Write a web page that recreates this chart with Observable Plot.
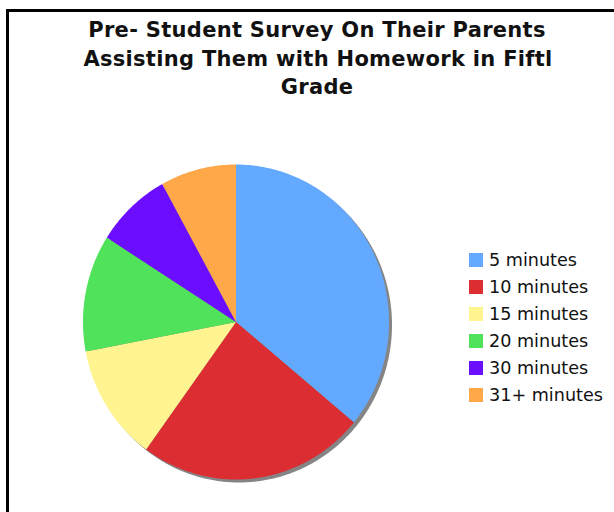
<!DOCTYPE html>
<html>
<head>
<meta charset="utf-8">
<script src="https://cdn.jsdelivr.net/npm/d3@7"></script>
<script src="https://cdn.jsdelivr.net/npm/@observablehq/plot@0.6"></script>
<style>
  html, body { margin: 0; padding: 0; background: #fff; }
  #root { position: relative; width: 614px; height: 512px; overflow: hidden; font-family: "DejaVu Sans", sans-serif; }
  #frame { position: absolute; left: 6px; top: 9px; width: 700px; height: 600px; border-left: 3px solid #000; border-top: 3px solid #000; }
  #title { position: absolute; left: 0; top: 16px; width: 634px; text-align: center; font-weight: bold; font-size: 21px; line-height: 28.5px; letter-spacing: 0.3px; color: #111; white-space: nowrap; }
  #title .l2 { display: inline-block; position: relative; left: 1px; }
  #chart { position: absolute; left: 0; top: 0; }
  #legend { position: absolute; left: 469px; top: 246px; font-size: 17.6px; color: #111; }
  #legend .row { display: flex; align-items: center; height: 27.1px; white-space: nowrap; }
  #legend .sw { width: 14px; height: 14px; margin-right: 6px; }
</style>
</head>
<body>
<div id="root">
  <div id="frame"></div>
  <div id="chart"></div>
  <div id="title"></div>
  <div id="legend"></div>
</div>
<script>
const titleLines = ["Pre- Student Survey On Their Parents", "Assisting Them with Homework in Fiftl", "Grade"];
const categories = ["5 minutes", "10 minutes", "15 minutes", "20 minutes", "30 minutes", "31+ minutes"];
const values = [9, 6, 3, 3, 2, 2];
const colors = ["#63a9ff", "#dc2d33", "#fff48f", "#4fe25a", "#6b0dff", "#ffa84a"];

// title
const t = document.getElementById("title");
titleLines.forEach((line, i) => {
  const d = document.createElement("div");
  const s = document.createElement("span");
  s.textContent = line;
  if (i === 1) s.className = "l2";
  d.appendChild(s);
  t.appendChild(d);
});

// pie geometry from data
const arcs = d3.pie().sort(null).value(d => d.value).startAngle(0).endAngle(2 * Math.PI)(
  categories.map((name, i) => ({name, value: values[i]}))
);
const wedgePts = [];
arcs.forEach(a => {
  wedgePts.push({name: a.data.name, x: 0, y: 0});
  const n = Math.max(2, Math.ceil((a.endAngle - a.startAngle) / (Math.PI / 360)));
  for (let k = 0; k <= n; k++) {
    const ang = a.startAngle + (a.endAngle - a.startAngle) * k / n;
    wedgePts.push({name: a.data.name, x: Math.sin(ang), y: Math.cos(ang)});
  }
  wedgePts.push({name: a.data.name, x: 0, y: 0});
});
const circlePts = d3.range(0, 721).map(k => ({x: Math.sin(k * Math.PI / 360), y: Math.cos(k * Math.PI / 360)}));

const plot = Plot.plot({
  width: 614,
  height: 512,
  margin: 0,
  x: {domain: [-1, 1], range: [82.5, 388.5], axis: null},
  y: {domain: [-1, 1], range: [479, 164], axis: null},
  color: {domain: categories, range: colors},
  marks: [
    Plot.line(circlePts, {x: "x", y: "y", fill: "#858585", stroke: "none", dx: 3, dy: 3, curve: "linear"}),
    Plot.line(wedgePts, {x: "x", y: "y", z: "name", fill: "name", stroke: "none", curve: "linear"})
  ]
});
document.getElementById("chart").appendChild(plot);

// legend
const lg = document.getElementById("legend");
categories.forEach((c, i) => {
  const r = document.createElement("div");
  r.className = "row";
  const sw = document.createElement("div");
  sw.className = "sw";
  sw.style.background = colors[i];
  const tx = document.createElement("span");
  tx.textContent = c;
  r.appendChild(sw);
  r.appendChild(tx);
  lg.appendChild(r);
});
</script>
</body>
</html>
